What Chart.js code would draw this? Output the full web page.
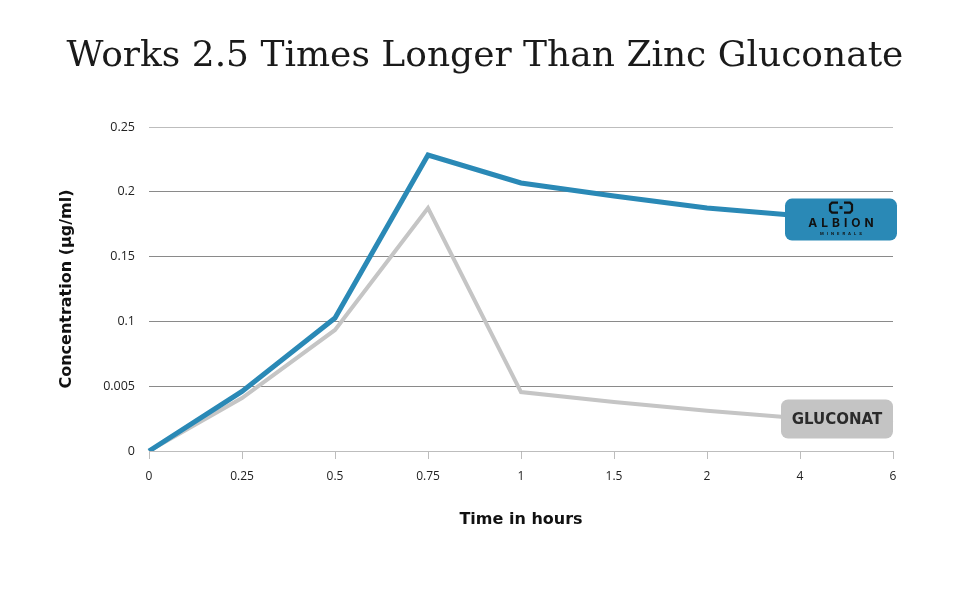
<!DOCTYPE html>
<html>
<head>
<meta charset="utf-8">
<script src="https://cdn.jsdelivr.net/npm/chart.js@4/dist/chart.umd.min.js"></script>
<style>
  html, body { margin: 0; padding: 0; background: #fff; }
  #wrap { width: 970px; height: 600px; }
</style>
</head>
<body>
<div id="wrap"><canvas id="zincChart" width="970" height="600"></canvas></div>
<script>
// chart data
const timeLabels = ['0', '0.25', '0.5', '0.75', '1', '1.5', '2', '4', '6'];
const albionValues = [0, 0.046, 0.1026, 0.2284, 0.2068, 0.1968, 0.1875, 0.1815, 0.177];
const gluconateValues = [0, 0.0409, 0.0934, 0.1875, 0.0455, 0.0378, 0.031, 0.0252, 0.0216];
const yTickLabels = ['0', '0.005', '0.1', '0.15', '0.2', '0.25'];

const BLUE = '#2a89b6';
const GREY = '#c5c5c5';

// draws the end-of-line tags (Albion logo box, "GLUCONAT" box)
const endTags = {
    id: 'endTags',
    afterDatasetsDraw(chart) {
        const ctx = chart.ctx;
        const blueEnd = chart.getDatasetMeta(0).data.at(-1);
        const greyEnd = chart.getDatasetMeta(1).data.at(-1);
        ctx.save();

        // Albion box
        let cx = blueEnd.x - 52, cy = blueEnd.y - 2;
        ctx.fillStyle = BLUE;
        ctx.beginPath();
        ctx.roundRect(cx - 56, cy - 21, 112, 42, 7);
        ctx.fill();
        // logo mark: two brackets and a dot
        ctx.strokeStyle = '#111';
        ctx.lineWidth = 2.2;
        ctx.beginPath();
        ctx.moveTo(cx - 3, cy - 17);
        ctx.lineTo(cx - 9, cy - 17);
        ctx.lineTo(cx - 11, cy - 15);
        ctx.lineTo(cx - 11, cy - 9);
        ctx.lineTo(cx - 9, cy - 7);
        ctx.lineTo(cx - 3, cy - 7);
        ctx.moveTo(cx + 3, cy - 17);
        ctx.lineTo(cx + 9, cy - 17);
        ctx.lineTo(cx + 11, cy - 15);
        ctx.lineTo(cx + 11, cy - 9);
        ctx.lineTo(cx + 9, cy - 7);
        ctx.lineTo(cx + 3, cy - 7);
        ctx.stroke();
        ctx.fillStyle = '#111';
        ctx.fillRect(cx - 1.5, cy - 13.5, 3, 3);
        ctx.textAlign = 'center';
        ctx.textBaseline = 'middle';
        ctx.letterSpacing = '4px';
        ctx.font = 'bold 12px "Inter"';
        ctx.fillText('ALBION', cx + 2, cy + 4);
        ctx.letterSpacing = '3px';
        ctx.font = 'bold 4px "Inter"';
        ctx.fillText('MINERALS', cx + 1.5, cy + 14);
        ctx.letterSpacing = '0px';

        // Gluconate box
        cx = greyEnd.x - 56; cy = greyEnd.y - 4;
        ctx.fillStyle = '#c4c4c4';
        ctx.beginPath();
        ctx.roundRect(cx - 56, cy - 19.5, 112, 39, 7);
        ctx.fill();
        ctx.fillStyle = '#2b2b2b';
        ctx.font = 'bold 15px "DejaVu Sans"';
        ctx.fillText('GLUCONAT', cx, cy + 1);

        ctx.restore();
    }
};

const chart = new Chart(document.getElementById('zincChart'), {
    type: 'line',
    data: {
        labels: timeLabels,
        datasets: [
            {
                label: 'Albion',
                data: albionValues,
                borderColor: BLUE,
                borderWidth: 5,
                pointRadius: 0,
                tension: 0
            },
            {
                label: 'Zinc Gluconate',
                data: gluconateValues,
                borderColor: GREY,
                borderWidth: 4,
                pointRadius: 0,
                tension: 0
            }
        ]
    },
    options: {
        responsive: false,
        animation: false,
        layout: { padding: 0 },
        plugins: {
            legend: { display: false },
            tooltip: { enabled: false },
            title: {
                display: true,
                text: 'Works 2.5 Times Longer Than Zinc Gluconate',
                color: '#1a1a1a',
                font: { family: '"DejaVu Serif"', size: 36, weight: 'normal', lineHeight: 1.2 },
                padding: { top: 35, bottom: 48.8 }
            }
        },
        scales: {
            x: {
                grid: { drawOnChartArea: false, color: '#bdbdbd', tickLength: 8 },
                border: { display: true, color: '#bdbdbd' },
                ticks: { color: '#222', padding: 10, maxRotation: 0, font: { family: '"Open Sans"', size: 12 } },
                title: {
                    display: true,
                    text: 'Time in hours',
                    color: '#111',
                    font: { family: '"DejaVu Sans"', size: 16, weight: 'bold', lineHeight: 1.2 },
                    padding: { top: 0, bottom: 71 }
                },
                afterFit(scale) { scale.height = 149; }
            },
            y: {
                min: 0,
                max: 0.25,
                grid: {
                    drawTicks: false,
                    color: ctx => (ctx.tick && ctx.tick.value > 0.24 ? '#bdbdbd' : '#8a8a8a')
                },
                border: { display: false },
                ticks: {
                    stepSize: 0.05,
                    padding: 14,
                    color: '#222',
                    font: { family: '"Open Sans"', size: 12.5 },
                    callback: (value, index) => yTickLabels[index]
                },
                title: {
                    display: true,
                    text: 'Concentration (μg/ml)',
                    color: '#111',
                    font: { family: '"DejaVu Sans"', size: 16, weight: 'bold', lineHeight: 1.2 },
                    padding: { top: 57, bottom: 0 }
                },
                afterFit(scale) { scale.width = 149; }
            },
            // empty right-hand axis that only reserves the space beside the plot
            gap: {
                type: 'linear',
                position: 'right',
                display: true,
                grid: { display: false },
                border: { display: false },
                ticks: { display: false },
                afterFit(scale) { scale.width = 77; }
            }
        }
    },
    plugins: [endTags]
});
</script>
</body>
</html>
